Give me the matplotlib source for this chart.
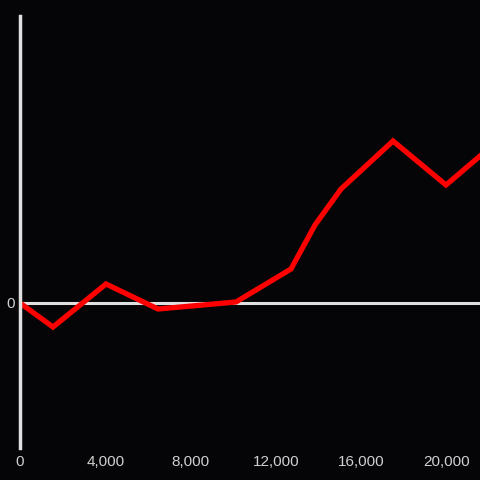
import matplotlib
matplotlib.use("Agg")
import matplotlib.pyplot as plt

plt.rcParams["font.family"] = ["Liberation Sans", "DejaVu Sans"]

x_values = [0, 1546, 4028, 6464, 10117, 12693, 13817, 15035, 17471, 19953, 21546]
y_values = [0, -24, 19, -6, 1, 34, 78, 114, 162, 118, 147]
x_ticks = [0, 4000, 8000, 12000, 16000, 20000]
x_tick_labels = ["0", "4,000", "8,000", "12,000", "16,000", "20,000"]

bg = "#050407"
fig = plt.figure(figsize=(4.8, 4.8), dpi=100, facecolor=bg)
ax = fig.add_axes([20/480, 32/480, 460/480, 432/480], facecolor=bg)

ax.axhline(0, color="#e0e0e0", lw=2.2, zorder=1)
ax.plot(x_values, y_values, color="#ff0000", lw=3.8, solid_joinstyle="miter", zorder=2)

ax.set_xlim(0, 21546)
ax.set_ylim(-145, 287)

for s in ["top", "right", "bottom"]:
    ax.spines[s].set_visible(False)
ax.spines["left"].set_color("#e0e0e0")
ax.spines["left"].set_linewidth(2.5)

ax.set_xticks(x_ticks)
ax.set_xticklabels(x_tick_labels)
ax.set_yticks([0])
ax.set_yticklabels(["0"])
ax.tick_params(axis="both", length=0, colors="#d0d0d0", labelsize=11)
ax.tick_params(axis="x", pad=5)
ax.tick_params(axis="y", pad=4)

fig.savefig("out.png", dpi=100, facecolor=bg)
